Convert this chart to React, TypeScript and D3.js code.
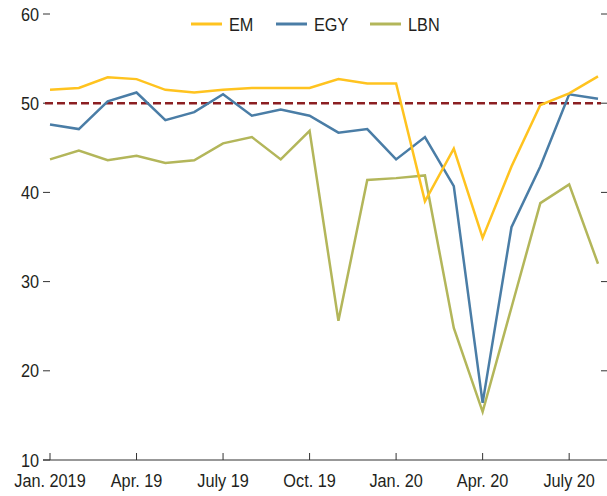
import * as d3 from 'd3';
import { useEffect, useRef } from 'react';

// Monthly index values, Jan. 2019 – Aug. 2020
const months = [
  '2019-01', '2019-02', '2019-03', '2019-04', '2019-05', '2019-06', '2019-07',
  '2019-08', '2019-09', '2019-10', '2019-11', '2019-12', '2020-01', '2020-02',
  '2020-03', '2020-04', '2020-05', '2020-06', '2020-07', '2020-08',
];
const em = [51.5, 51.7, 52.9, 52.7, 51.5, 51.2, 51.5, 51.7, 51.7, 51.7, 52.7, 52.2, 52.2, 39.0, 44.9, 34.9, 42.9, 49.8, 51.1, 53.0];
const egy = [47.6, 47.1, 50.2, 51.2, 48.1, 49.0, 51.0, 48.6, 49.3, 48.6, 46.7, 47.1, 43.7, 46.2, 40.7, 16.4, 36.1, 42.9, 51.0, 50.5];
const lbn = [43.7, 44.7, 43.6, 44.1, 43.3, 43.6, 45.5, 46.2, 43.7, 46.9, 25.6, 41.4, 41.6, 41.9, 24.8, 15.4, 27.1, 38.8, 40.9, 32.0];

const xTickIdx = [0, 3, 6, 9, 12, 15, 18];
const xTickLabels = ['Jan. 2019', 'Apr. 19', 'July 19', 'Oct. 19', 'Jan. 20', 'Apr. 20', 'July 20'];
const yTicks = [10, 20, 30, 40, 50, 60];
const threshold = 50;

const seriesNames = ['EM', 'EGY', 'LBN'];
const seriesColors = ['#FFC31F', '#4A7DA6', '#B3B65A'];

const FONT = "'Liberation Sans', Arial, sans-serif";
const SQUEEZE = 0.88; // condensed look

const App = () => {
  const svgRef = useRef<SVGSVGElement | null>(null);

  useEffect(() => {
    const width = 607;
    const height = 496;
    const margin = { top: 14, right: 9, bottom: 36, left: 50 };

    const x = d3.scaleLinear()
      .domain([0, months.length - 1])
      .range([margin.left, width - margin.right]);

    const y = d3.scaleLinear()
      .domain([10, 60])
      .range([height - margin.bottom, margin.top]);

    const svg = d3.select(svgRef.current)
      .attr('width', width)
      .attr('height', height);
    svg.selectAll('*').remove();

    const axisColor = '#333';

    // condensed label helper
    const label = (g: any, px: number, py: number, txt: string, anchor: string) =>
      g.append('g')
        .attr('transform', `translate(${px},${py}) scale(${SQUEEZE},1)`)
        .append('text')
        .attr('dy', '0.36em')
        .attr('text-anchor', anchor)
        .attr('font-family', FONT)
        .attr('font-size', 18.5)
        .attr('fill', '#231f20')
        .text(txt);

    // left/right ticks + labels
    const left = svg.append('g');
    yTicks.forEach((t) => {
      left.append('line')
        .attr('x1', 43).attr('x2', margin.left)
        .attr('y1', y(t)).attr('y2', y(t))
        .attr('stroke', axisColor).attr('stroke-width', 1);
      label(left, 39, y(t), String(t), 'end');
      if (t !== 10) {
        left.append('line')
          .attr('x1', 601).attr('x2', 607)
          .attr('y1', y(t)).attr('y2', y(t))
          .attr('stroke', axisColor).attr('stroke-width', 1);
      }
    });

    // bottom axis
    const bottom = svg.append('g');
    bottom.append('line')
      .attr('x1', 43).attr('x2', 607)
      .attr('y1', y(10)).attr('y2', y(10))
      .attr('stroke', axisColor).attr('stroke-width', 1.2);
    xTickIdx.forEach((i, k) => {
      bottom.append('line')
        .attr('x1', x(i)).attr('x2', x(i))
        .attr('y1', y(10)).attr('y2', y(10) - 7)
        .attr('stroke', axisColor).attr('stroke-width', 1);
      label(bottom, x(i), y(10) + 20, xTickLabels[k], 'middle');
    });

    // 50 threshold
    svg.append('line')
      .attr('x1', 45).attr('x2', 601)
      .attr('y1', y(threshold)).attr('y2', y(threshold))
      .attr('stroke', '#8B1F22')
      .attr('stroke-width', 2.5)
      .attr('stroke-dasharray', '8,4');

    const line = d3.line<number>()
      .x((_, i) => x(i))
      .y((d) => y(d));

    [lbn, egy, em].forEach((s) => {
      const idx = s === em ? 0 : s === egy ? 1 : 2;
      svg.append('path')
        .datum(s)
        .attr('fill', 'none')
        .attr('stroke', seriesColors[idx])
        .attr('stroke-width', 2.5)
        .attr('d', line);
    });

    // legend
    const legendX = [191, 276, 370];
    const lg = svg.append('g');
    seriesNames.forEach((name, i) => {
      lg.append('line')
        .attr('x1', legendX[i]).attr('x2', legendX[i] + 31)
        .attr('y1', 24).attr('y2', 24)
        .attr('stroke', seriesColors[i])
        .attr('stroke-width', 3);
      label(lg, legendX[i] + 38, 24, name, 'start');
    });
  }, []);

  return <svg ref={svgRef} style={{ position: 'absolute', left: 0, top: 0 }}></svg>;
};

export default App;
